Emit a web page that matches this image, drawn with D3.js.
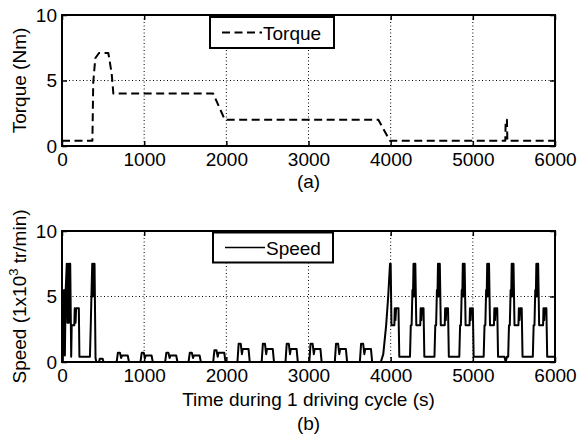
<!DOCTYPE html>
<html>
<head>
<meta charset="utf-8">
<script src="https://cdn.jsdelivr.net/npm/d3@7"></script>
<style>
  html, body { margin: 0; padding: 0; background: #fff; }
  svg { display: block; }
  text { font-family: "Liberation Sans", Arial, Helvetica, sans-serif; fill: #000; }
</style>
</head>
<body>
<svg id="chart" width="579" height="437"></svg>
<script>
// ---------- DATA ----------
const xTicks = [0, 1000, 2000, 3000, 4000, 5000, 6000];
const yTicks = [0, 5, 10];
const xDomain = [0, 6000];
const yDomain = [0, 10];

const torqueLabel = "Torque";
const speedLabel = "Speed";

// Torque (Nm): [time s, value]
const torque = [
  [0, 0.4], [370, 0.4], [380, 4.8], [405, 6.7], [450, 7.1], [563, 7.1],
  [575, 6.7], [605, 5.5], [625, 4.0], [1840, 4.0], [1982, 2.0],
  [3850, 2.0], [3990, 0.4], [5395, 0.4], [5400, 2.0], [5415, 2.0],
  [5420, 0.4], [6000, 0.4]
];

// Speed (1x10^3 tr/min): opening high-speed part
const speedStart = [
  [0, 0], [10, 0], [15, 3.0], [25, 5.5], [35, 0.5], [45, 5.5], [58, 7.5],
  [66, 3.0], [74, 7.5], [84, 3.0], [92, 7.5], [100, 7.5], [112, 0.4],
  [118, 2.8], [150, 2.8], [155, 4.1], [165, 3.0], [172, 4.1], [205, 4.1],
  [212, 0.4], [340, 0.4], [350, 2.8], [360, 5.5], [368, 7.5], [376, 5.0],
  [383, 7.5], [390, 5.5], [396, 7.5], [408, 0.3], [418, 0], [450, 0], [460, 0.25],
  [495, 0.25], [505, 0]
];

// Speed: low-speed urban humps
const speedUrban = [
  [665, 0], [680, 0.7], [705, 0.7], [720, 0.3], [730, 0.5], [800, 0.5], [815, 0],
  [955, 0], [970, 0.7], [995, 0.7], [1010, 0.3], [1020, 0.5], [1090, 0.5], [1105, 0],
  [1255, 0], [1270, 0.7], [1295, 0.7], [1310, 0.3], [1320, 0.5], [1390, 0.5], [1405, 0],
  [1540, 0], [1555, 0.7], [1580, 0.7], [1595, 0.3], [1605, 0.5], [1675, 0.5], [1690, 0],
  [1840, 0], [1855, 0.9], [1880, 0.9], [1895, 0.4], [1905, 0.7], [1975, 0.7], [1990, 0],
  [2135, 0], [2150, 1.4], [2175, 1.4], [2190, 0.6], [2200, 1.0], [2270, 1.0], [2285, 0],
  [2430, 0], [2445, 1.4], [2470, 1.4], [2485, 0.6], [2495, 1.0], [2565, 1.0], [2580, 0],
  [2720, 0], [2735, 1.4], [2760, 1.4], [2775, 0.6], [2785, 1.0], [2855, 1.0], [2870, 0],
  [3010, 0], [3025, 1.4], [3050, 1.4], [3065, 0.6], [3075, 1.0], [3145, 1.0], [3160, 0],
  [3320, 0], [3335, 1.4], [3360, 1.4], [3375, 0.6], [3385, 1.0], [3455, 1.0], [3470, 0],
  [3625, 0], [3640, 1.4], [3665, 1.4], [3680, 0.6], [3690, 1.0], [3760, 1.0], [3775, 0]
];

// Speed: closing high-speed part
const speedHigh = [
  [3880, 0], [3910, 0.6], [3945, 2.8], [3970, 5.0], [3992, 7.5], [4000, 7.5],
  [4010, 2.8], [4045, 2.8], [4050, 4.1], [4058, 3.2], [4066, 4.1], [4095, 4.1], [4105, 0.4],
  [4235, 0.4], [4245, 2.8], [4255, 2.8], [4265, 5.5], [4273, 5.5], [4278, 7.5], [4284, 5.0],
  [4290, 7.5], [4296, 5.5], [4300, 7.5], [4312, 2.8], [4360, 2.8], [4365, 4.1], [4373, 3.2],
  [4380, 4.1], [4400, 4.1], [4410, 0.4],
  [4533, 0.4], [4543, 2.8], [4553, 2.8], [4563, 5.5], [4571, 5.5], [4576, 7.5], [4582, 5.0],
  [4588, 7.5], [4594, 5.5], [4598, 7.5], [4610, 2.8], [4658, 2.8], [4663, 4.1], [4671, 3.2],
  [4678, 4.1], [4698, 4.1], [4708, 0.4],
  [4835, 0.4], [4845, 2.8], [4855, 2.8], [4865, 5.5], [4873, 5.5], [4878, 7.5], [4884, 5.0],
  [4890, 7.5], [4896, 5.5], [4900, 7.5], [4912, 2.8], [4960, 2.8], [4965, 4.1], [4973, 3.2],
  [4980, 4.1], [5000, 4.1], [5010, 0.4],
  [5132, 0.4], [5142, 2.8], [5152, 2.8], [5162, 5.5], [5170, 5.5], [5175, 7.5], [5181, 5.0],
  [5187, 7.5], [5193, 5.5], [5197, 7.5], [5209, 2.8], [5257, 2.8], [5262, 4.1], [5270, 3.2],
  [5277, 4.1], [5297, 4.1], [5307, 0.4],
  [5385, 0.4], [5400, 0], [5415, 0.4],
  [5430, 0.4], [5440, 2.8], [5450, 2.8], [5460, 5.5], [5468, 5.5], [5473, 7.5], [5479, 5.0],
  [5485, 7.5], [5491, 5.5], [5495, 7.5], [5507, 2.8], [5555, 2.8], [5560, 4.1], [5568, 3.2],
  [5575, 4.1], [5595, 4.1], [5605, 0.4],
  [5730, 0.4], [5740, 2.8], [5750, 2.8], [5760, 5.5], [5768, 5.5], [5773, 7.5], [5779, 5.0],
  [5785, 7.5], [5791, 5.5], [5795, 7.5], [5807, 2.8], [5855, 2.8], [5860, 4.1], [5868, 3.2],
  [5875, 4.1], [5895, 4.1], [5905, 0.4], [6000, 0.4]
];

const speed = speedStart.concat(speedUrban, speedHigh);

// ---------- LAYOUT ----------
const svg = d3.select("#chart");
const FS = 19;
const left = 62, right = 555;
const panels = [
  { top: 15, bottom: 146, data: torque, dashed: true, ylabel: "Torque (Nm)", tag: "(a)", tagY: 188,
    legend: { x: 210, y: 17, w: 124, h: 31, label: torqueLabel } },
  { top: 231, bottom: 362, data: speed, dashed: false, ylabel: null, tag: "(b)", tagY: 430,
    legend: { x: 213, y: 232.5, w: 120, h: 30, label: speedLabel } }
];

const x = d3.scaleLinear().domain(xDomain).range([left, right]);

panels.forEach((p, i) => {
  const y = d3.scaleLinear().domain(yDomain).range([p.bottom, p.top]);
  const g = svg.append("g");

  // grid
  g.append("g").selectAll("line.vg")
    .data(xTicks.filter(d => d > xDomain[0] && d < xDomain[1]))
    .join("line")
    .attr("x1", d => x(d)).attr("x2", d => x(d))
    .attr("y1", p.top).attr("y2", p.bottom)
    .attr("stroke", "#000").attr("stroke-width", 1)
    .attr("stroke-dasharray", "1,2.5");
  g.append("g").selectAll("line.hg")
    .data(yTicks.filter(d => d > yDomain[0] && d < yDomain[1]))
    .join("line")
    .attr("x1", left).attr("x2", right)
    .attr("y1", d => y(d)).attr("y2", d => y(d))
    .attr("stroke", "#000").attr("stroke-width", 1)
    .attr("stroke-dasharray", "1,2.5");

  // clip
  const clipId = "clip" + i;
  svg.append("clipPath").attr("id", clipId)
    .append("rect").attr("x", left).attr("y", p.top - 2)
    .attr("width", right - left).attr("height", p.bottom - p.top + 2);

  // series
  const line = d3.line().x(d => x(d[0])).y(d => y(d[1]));
  g.append("path")
    .datum(p.data)
    .attr("clip-path", `url(#${clipId})`)
    .attr("d", line)
    .attr("fill", "none")
    .attr("stroke", "#000")
    .attr("stroke-width", 2)
    .attr("stroke-linejoin", "round")
    .attr("stroke-dasharray", p.dashed ? "8,4.5" : null);

  // axes (ticks inward)
  const ax = d3.axisBottom(x).tickValues(xTicks).tickFormat(d3.format("d"))
    .tickSizeInner(-5).tickSizeOuter(0).tickPadding(7);
  const axG = g.append("g").attr("transform", `translate(0,${p.bottom})`).call(ax);
  const ay = d3.axisLeft(y).tickValues(yTicks).tickFormat(d3.format("d"))
    .tickSizeInner(-5).tickSizeOuter(0).tickPadding(5);
  const ayG = g.append("g").attr("transform", `translate(${left},0)`).call(ay);
  const axT = d3.axisTop(x).tickValues(xTicks).tickFormat("").tickSizeInner(-5).tickSizeOuter(0);
  const axTG = g.append("g").attr("transform", `translate(0,${p.top})`).call(axT);
  const ayR = d3.axisRight(y).tickValues(yTicks).tickFormat("").tickSizeInner(-5).tickSizeOuter(0);
  const ayRG = g.append("g").attr("transform", `translate(${right},0)`).call(ayR);
  [axG, ayG, axTG, ayRG].forEach(a => {
    a.select(".domain").remove();
    a.selectAll(".tick line").attr("stroke", "#000").attr("stroke-width", 1.5);
    a.selectAll("text").attr("font-size", FS)
      .attr("font-family", '"Liberation Sans", Arial, sans-serif').attr("fill", "#000");
  });

  // frame
  g.append("rect").attr("x", left).attr("y", p.top)
    .attr("width", right - left).attr("height", p.bottom - p.top)
    .attr("fill", "none").attr("stroke", "#000").attr("stroke-width", 2);

  // legend
  const L = p.legend;
  const lg = g.append("g");
  lg.append("rect").attr("x", L.x).attr("y", L.y).attr("width", L.w).attr("height", L.h)
    .attr("fill", "#fff").attr("stroke", "#000").attr("stroke-width", 2);
  lg.append("line").attr("x1", L.x + 12).attr("x2", L.x + 52)
    .attr("y1", L.y + L.h / 2).attr("y2", L.y + L.h / 2)
    .attr("stroke", "#000").attr("stroke-width", p.dashed ? 2 : 1.5)
    .attr("stroke-dasharray", p.dashed ? "8,4.5" : null);
  lg.append("text").attr("x", L.x + 53).attr("y", L.y + L.h / 2 + 7)
    .attr("font-size", FS).text(L.label);

  // tag
  g.append("text").attr("x", (left + right) / 2).attr("y", p.tagY)
    .attr("text-anchor", "middle").attr("font-size", FS).text(p.tag);

  // y label
  const yl = g.append("text")
    .attr("transform", `translate(26,${(p.top + p.bottom) / 2}) rotate(-90)`)
    .attr("text-anchor", "middle").attr("font-size", FS);
  if (p.ylabel) {
    yl.text(p.ylabel);
  } else {
    yl.append("tspan").text("Speed (1x10");
    yl.append("tspan").attr("font-size", 13).attr("dy", -8).text("3");
    yl.append("tspan").attr("dy", 8).text(" tr/min)");
  }
});

// x label
svg.append("text").attr("x", (left + right) / 2).attr("y", 405.5)
  .attr("text-anchor", "middle").attr("font-size", FS)
  .text("Time during 1 driving cycle (s)");
</script>
</body>
</html>
